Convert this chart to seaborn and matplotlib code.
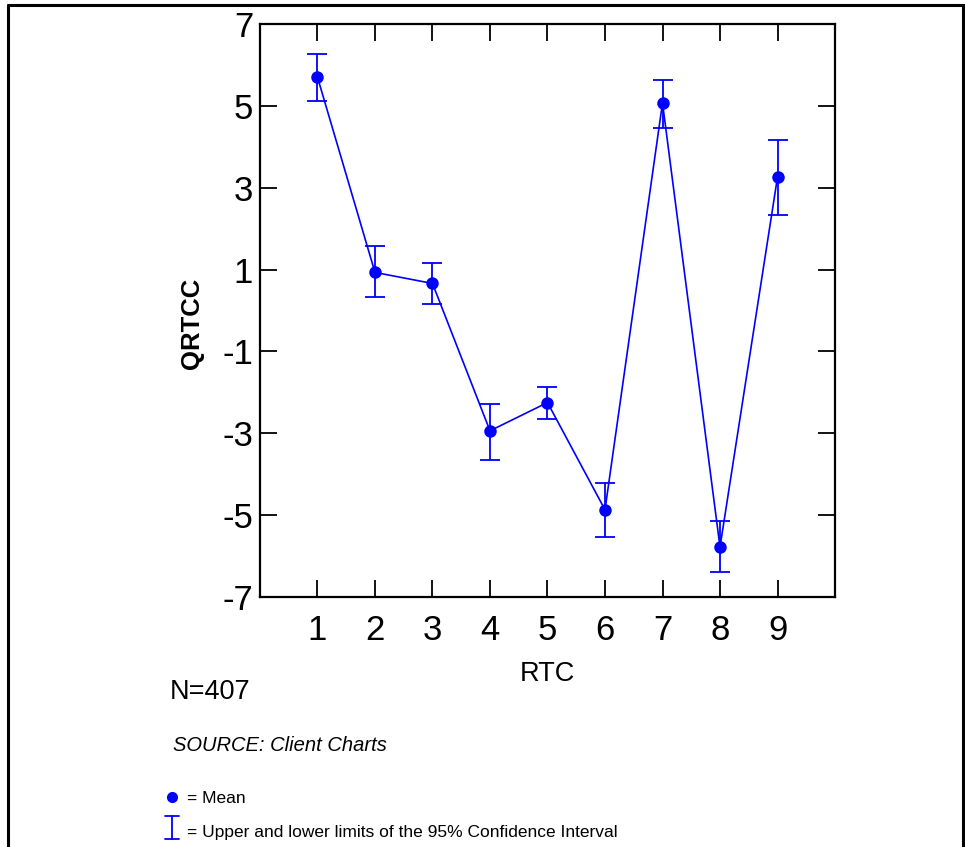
import matplotlib
matplotlib.use("Agg")
import matplotlib.pyplot as plt
import seaborn as sns
import pandas as pd
from matplotlib.lines import Line2D

rtc = [1, 2, 3, 4, 5, 6, 7, 8, 9]
mean = [5.70, 0.93, 0.66, -2.94, -2.25, -4.87, 5.07, -5.78, 3.26]
upper = [6.27, 1.57, 1.15, -2.28, -1.86, -4.21, 5.63, -5.14, 4.16]
lower = [5.12, 0.32, 0.17, -3.65, -2.64, -5.53, 4.45, -6.39, 2.33]
yticks = [-7, -5, -3, -1, 1, 3, 5, 7]

df = pd.DataFrame({"RTC": rtc, "QRTCC": mean, "upper": upper, "lower": lower})

sns.set_theme(style="white")
plt.rcParams["font.family"] = ["Liberation Sans", "DejaVu Sans"]
plt.rcParams["text.color"] = "black"
plt.rcParams["axes.labelcolor"] = "black"
plt.rcParams["xtick.color"] = "black"
plt.rcParams["ytick.color"] = "black"

BLUE = "#0000FF"
fig = plt.figure(figsize=(9.65, 8.47), dpi=100)
ax = fig.add_axes([0.2694, 0.2952, 0.5959, 0.6765])

sns.lineplot(data=df, x="RTC", y="QRTCC", ax=ax, color=BLUE, marker="o",
             markersize=9, markeredgewidth=0, linewidth=1.2)
ax.errorbar(df["RTC"], df["QRTCC"],
            yerr=[df["QRTCC"] - df["lower"], df["upper"] - df["QRTCC"]],
            fmt="none", ecolor=BLUE, elinewidth=1.3, capsize=7.5, capthick=1.3)

ax.set_xlim(0, 10)
ax.set_ylim(-7, 7)
ax.set_xticks(rtc)
ax.set_yticks(yticks)
ax.set_xticklabels([str(v) for v in rtc])
ax.set_yticklabels([str(v) for v in yticks])
ax.tick_params(axis="both", which="major", direction="in", length=12.5, width=1.3,
               color="black", labelcolor="black", top=True, right=True,
               bottom=True, left=True, labelsize=25)
ax.tick_params(axis="x", pad=12)
ax.tick_params(axis="y", pad=5)
for s in ax.spines.values():
    s.set_color("black")
    s.set_linewidth(1.6)
ax.set_xlabel("RTC", fontsize=19.5, labelpad=10, color="black")
ax.set_ylabel("QRTCC", fontsize=18.5, fontweight="bold", color="black")
ax.yaxis.set_label_coords(-0.097, 0.478)

# Figure frame
fig.add_artist(Line2D([8/965, 8/965], [0, 1 - 5/847], transform=fig.transFigure, color="black", lw=2.2))
fig.add_artist(Line2D([8/965, 1], [1 - 5/847, 1 - 5/847], transform=fig.transFigure, color="black", lw=2.2))
fig.add_artist(Line2D([963/965, 963/965], [0, 1 - 5/847], transform=fig.transFigure, color="black", lw=2.2))

fig.text(170/965, 1 - 692/847, "N=407", fontsize=19.5, ha="left", va="center")
fig.text(173/965, 1 - 745/847, "SOURCE: Client Charts", fontsize=14.5, style="italic",
         ha="left", va="center")

# Legend
fig.add_artist(Line2D([172/965], [1 - 797/847], transform=fig.transFigure, marker="o",
                      color=BLUE, markersize=8, markeredgewidth=0, linestyle="none"))
fig.text(187/965, 1 - 798/847, "= Mean", fontsize=12.5, ha="left", va="center")
x0 = 172/965
fig.add_artist(Line2D([x0, x0], [1 - 816/847, 1 - 839/847], transform=fig.transFigure, color=BLUE, lw=1.3))
fig.add_artist(Line2D([x0 - 7/965, x0 + 7/965], [1 - 816/847, 1 - 816/847], transform=fig.transFigure, color=BLUE, lw=1.3))
fig.add_artist(Line2D([x0 - 7/965, x0 + 7/965], [1 - 839/847, 1 - 839/847], transform=fig.transFigure, color=BLUE, lw=1.3))
fig.text(187/965, 1 - 832/847, "= Upper and lower limits of the 95% Confidence Interval",
         fontsize=12.5, ha="left", va="center")

fig.savefig("out.png", dpi=100, facecolor="white")
